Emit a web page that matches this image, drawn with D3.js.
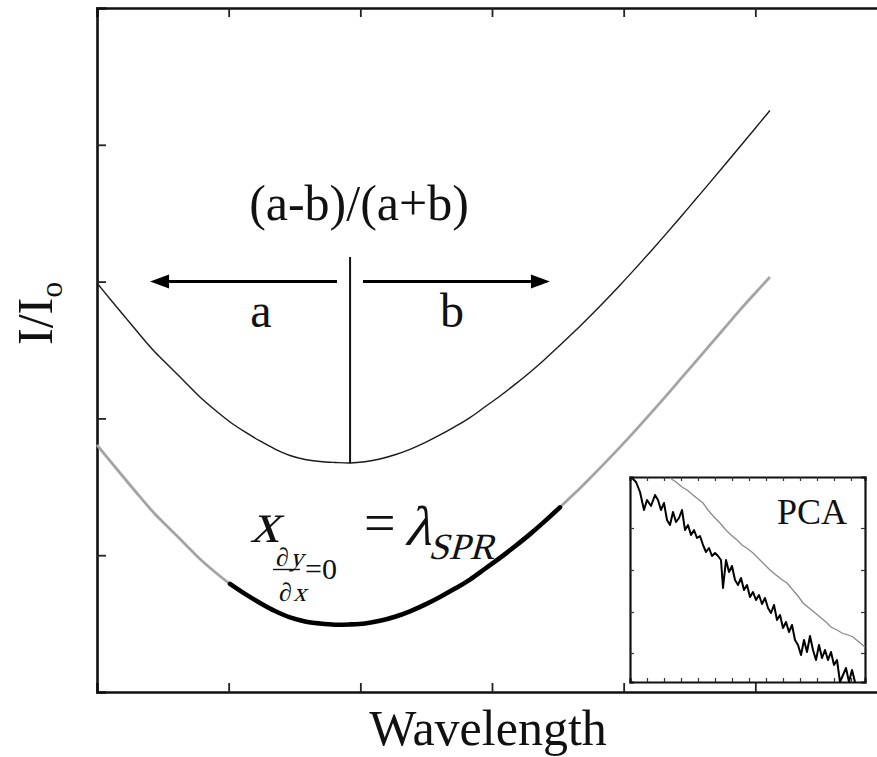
<!DOCTYPE html>
<html>
<head>
<meta charset="utf-8">
<script src="https://cdn.jsdelivr.net/npm/d3@7"></script>
<style>
  html, body { margin: 0; padding: 0; background: #fff; }
  svg { display: block; }
  text { font-family: "Liberation Serif", "Times New Roman", serif; fill: #111; }
</style>
</head>
<body>
<svg id="chart" width="877" height="757"></svg>
<script>
// ---- Main spectra (arbitrary units) ----
const xTicks = [1, 2, 3, 4, 5];
const yTicks = [1, 2, 3, 4];

// wavelength grid shared by both spectra
const wl = [0.000, 0.099, 0.213, 0.327, 0.440, 0.554, 0.668, 0.782, 0.896, 1.010,
            1.124, 1.238, 1.352, 1.466, 1.580, 1.694, 1.808, 1.922, 2.035, 2.149,
            2.263, 2.377, 2.491, 2.605, 2.719, 2.833, 2.947, 3.061, 3.175, 3.289,
            3.402, 3.516, 3.630, 3.744, 3.858, 3.972, 4.086, 4.200, 4.314, 4.428,
            4.542, 4.656, 4.770, 4.884, 4.998, 5.111];

// Reference spectrum (upper, thin black)
const upperY = [2.990, 2.873, 2.741, 2.610, 2.485, 2.376, 2.266, 2.156, 2.061, 1.974,
                1.901, 1.835, 1.776, 1.729, 1.700, 1.685, 1.678, 1.674, 1.683, 1.703,
                1.734, 1.774, 1.823, 1.879, 1.940, 2.006, 2.085, 2.164, 2.249, 2.338,
                2.433, 2.534, 2.638, 2.747, 2.859, 2.974, 3.093, 3.215, 3.340, 3.467,
                3.596, 3.725, 3.856, 3.988, 4.119, 4.251];

// Measured spectrum (lower, grey)
const lowerY = [1.806, 1.689, 1.557, 1.426, 1.301, 1.192, 1.082, 0.972, 0.877, 0.790,
                0.717, 0.651, 0.592, 0.545, 0.516, 0.501, 0.492, 0.494, 0.501, 0.520,
                0.550, 0.590, 0.639, 0.695, 0.756, 0.822, 0.901, 0.980, 1.065, 1.154,
                1.249, 1.350, 1.454, 1.563, 1.675, 1.790, 1.909, 2.031, 2.156, 2.283,
                2.410, 2.537, 2.665, 2.793, 2.915, 3.034];

// Wavelength window of the polynomial fit around the minimum
const fitRange = [1.010, 3.516];

// ---- Inset: principal components ----
const insetXTicks = [17, 34, 51, 68, 85, 102, 119, 136, 153, 170, 187, 204, 221];
const insetYTicks = [29, 70, 112, 154];
const pcaBlackX = [2, 6, 10, 14, 17, 21, 25, 28, 31, 34, 37, 40, 43, 46, 49, 52, 55, 58, 61, 64,
                   67, 70, 73, 76, 79, 82, 85, 88, 91, 93, 96, 99, 102, 105, 108, 111, 114, 117, 120, 123,
                   126, 129, 132, 135, 138, 141, 144, 147, 150, 153, 156, 159, 162, 165, 168, 171, 174, 177, 180, 183,
                   186, 189, 192, 195, 198, 201, 204, 207, 210, 213, 216, 219, 222, 225];
const pcaBlackY = [204, 200, 190, 172, 182, 176, 187, 182, 172, 179, 162, 157, 170, 160, 164, 172, 152, 157, 147, 152,
                   144, 146, 137, 130, 134, 126, 129, 126, 122, 94, 122, 110, 116, 102, 97, 104, 92, 97, 85, 90,
                   82, 87, 78, 84, 74, 69, 77, 62, 67, 54, 60, 50, 57, 42, 37, 27, 42, 30, 46, 32,
                   22, 37, 24, 32, 22, 30, 17, 22, 0, 7, 14, 0, 12, 0];
const pcaGreyX = [40, 46, 52, 57, 63, 68, 73, 78, 84, 90, 95, 101, 107, 112, 118, 123, 129, 134, 140, 146,
                  151, 157, 162, 168, 173, 179, 184, 190, 196, 201, 207, 212, 218, 223, 229, 235];
const pcaGreyY = [204, 200, 195, 192, 187, 183, 179, 172, 165, 159, 153, 147, 142, 137, 133, 129, 123, 118, 112, 107,
                  103, 99, 93, 86, 79, 74, 70, 65, 60, 55, 52, 49, 47, 45, 40, 35];

// ---- Layout ----
const svg = d3.select("#chart");
const defs = svg.append("defs");
defs.append("filter").attr("id", "soft")
  .append("feGaussianBlur").attr("stdDeviation", 0.6);

const plot = { left: 97, right: 887, top: 8, bottom: 692 };
const x = d3.scaleLinear().domain([0, 6]).range([plot.left, plot.right]);
const y = d3.scaleLinear().domain([0, 5]).range([plot.bottom, plot.top]);
const tickLen = 9;

// axis frame with inward ticks on all four sides
const frame = svg.append("g");
frame.append("g").attr("transform", `translate(0,${plot.bottom})`)
  .call(d3.axisBottom(x).tickValues(xTicks).tickSize(-tickLen).tickFormat(""));
frame.append("g").attr("transform", `translate(0,${plot.top})`)
  .call(d3.axisTop(x).tickValues(xTicks).tickSize(-tickLen).tickFormat(""));
frame.append("g").attr("transform", `translate(${plot.left},0)`)
  .call(d3.axisLeft(y).tickValues(yTicks).tickSize(-tickLen).tickFormat(""));
frame.append("g").attr("transform", `translate(${plot.right},0)`)
  .call(d3.axisRight(y).tickValues(yTicks).tickSize(-tickLen).tickFormat(""));
frame.selectAll(".domain").attr("stroke", "#111").attr("stroke-width", 2.6);
frame.selectAll(".tick line").attr("stroke", "#222").attr("stroke-width", 1.8);

const smooth = d3.line().curve(d3.curveCatmullRom).x(d => x(d[0])).y(d => y(d[1]));
const upper = wl.map((v, i) => [v, upperY[i]]);
const lower = wl.map((v, i) => [v, lowerY[i]]);
const fit = lower.filter(d => d[0] >= fitRange[0] && d[0] <= fitRange[1]);

svg.append("path").datum(lower)
  .attr("d", smooth).attr("fill", "none").attr("filter", "url(#soft)")
  .attr("stroke", "#a4a4a4").attr("stroke-width", 2.8).attr("stroke-linejoin", "round");
svg.append("path").datum(upper)
  .attr("d", smooth).attr("fill", "none")
  .attr("stroke", "#1a1a1a").attr("stroke-width", 1.4).attr("stroke-linejoin", "round");
svg.append("path").datum(fit)
  .attr("d", smooth)
  .attr("fill", "none").attr("stroke", "#000").attr("stroke-width", 4.6).attr("stroke-linecap", "round");

// ---- Annotations: centroid split (a | b) ----
const split = upper.reduce((m, d) => d[1] < m[1] ? d : m);
const arrowY = 3.0;
const ann = svg.append("g");
ann.append("line")
  .attr("x1", x(split[0])).attr("x2", x(split[0]))
  .attr("y1", y(3.18)).attr("y2", y(split[1]))
  .attr("stroke", "#111").attr("stroke-width", 2);

function arrow(x0, x1) {
  const dir = Math.sign(x1 - x0);
  const head = 19, half = 7;
  ann.append("line")
    .attr("x1", x(x0)).attr("x2", x(x1) - dir * head)
    .attr("y1", y(arrowY)).attr("y2", y(arrowY))
    .attr("stroke", "#000").attr("stroke-width", 3);
  ann.append("path")
    .attr("d", `M${x(x1)},${y(arrowY)} L${x(x1) - dir * head},${y(arrowY) - half} L${x(x1) - dir * head},${y(arrowY) + half} Z`)
    .attr("fill", "#000");
}
arrow(1.823, 0.403);
arrow(2.020, 3.440);

ann.append("text").attr("x", 359).attr("y", 220).attr("text-anchor", "middle")
  .attr("font-size", 50).text("(a-b)/(a+b)");
ann.append("text").attr("x", 261).attr("y", 327).attr("text-anchor", "middle")
  .attr("font-size", 48).text("a");
ann.append("text").attr("x", 452).attr("y", 327).attr("text-anchor", "middle")
  .attr("font-size", 48).text("b");

// ---- Formula: x at zero derivative = lambda_SPR ----
const fm = svg.append("g");
// slanted glyphs for the math variables
function slanted(tx, ty, size, str) {
  return fm.append("text")
    .attr("transform", `translate(${tx},${ty}) skewX(-16)`)
    .attr("font-size", size).text(str);
}
slanted(250, 542, 58, "x");
fm.append("text").attr("x", 276).attr("y", 566).attr("font-size", 26).text("∂");
slanted(290, 566, 26, "y");
fm.append("line").attr("x1", 273).attr("x2", 300).attr("y1", 569.5).attr("y2", 569.5)
  .attr("stroke", "#111").attr("stroke-width", 1.4);
fm.append("text").attr("x", 279).attr("y", 601).attr("font-size", 26).text("∂");
slanted(293, 601, 26, "x");
fm.append("text").attr("x", 305).attr("y", 579).attr("font-size", 30).text("=0");
fm.append("text").attr("x", 364).attr("y", 542).attr("font-size", 56).text("=");
slanted(404, 545, 56, "λ");
slanted(428, 559, 37, "SPR");

// ---- Axis titles ----
svg.append("text").attr("x", 488).attr("y", 745).attr("text-anchor", "middle")
  .attr("font-size", 50).text("Wavelength");
svg.append("text").attr("transform", "translate(52,345) rotate(-90)")
  .attr("font-size", 50)
  .html('I/I<tspan font-size="32" dy="10">o</tspan>');

// ---- Inset ----
const box = { left: 630, right: 865, top: 477, bottom: 682 };
const ix = d3.scaleLinear().domain([0, 235]).range([box.left, box.right]);
const iy = d3.scaleLinear().domain([0, 205]).range([box.bottom, box.top]);
const inset = svg.append("g");
inset.append("rect").attr("x", box.left).attr("y", box.top)
  .attr("width", box.right - box.left).attr("height", box.bottom - box.top)
  .attr("fill", "#fff");
const iTick = 4;
inset.append("g").attr("transform", `translate(0,${box.bottom})`)
  .call(d3.axisBottom(ix).tickValues(insetXTicks).tickSize(-iTick).tickFormat(""));
inset.append("g").attr("transform", `translate(0,${box.top})`)
  .call(d3.axisTop(ix).tickValues(insetXTicks).tickSize(-iTick).tickFormat(""));
inset.append("g").attr("transform", `translate(${box.left},0)`)
  .call(d3.axisLeft(iy).tickValues(insetYTicks).tickSize(-iTick).tickFormat(""));
inset.append("g").attr("transform", `translate(${box.right},0)`)
  .call(d3.axisRight(iy).tickValues(insetYTicks).tickSize(-iTick).tickFormat(""));
inset.selectAll(".domain").attr("stroke", "#111").attr("stroke-width", 2.2);
inset.selectAll(".tick line").attr("stroke", "#333").attr("stroke-width", 1.2);

const iline = d3.line().x(d => ix(d[0])).y(d => iy(d[1]));
inset.append("path").datum(pcaGreyX.map((v, i) => [v, pcaGreyY[i]]))
  .attr("d", iline).attr("fill", "none").attr("stroke", "#8a8a8a").attr("stroke-width", 1.3);
inset.append("path").datum(pcaBlackX.map((v, i) => [v, pcaBlackY[i]]))
  .attr("d", iline).attr("fill", "none").attr("stroke", "#000").attr("stroke-width", 2)
  .attr("stroke-linejoin", "round");
inset.append("text").attr("x", 812).attr("y", 524).attr("text-anchor", "middle")
  .attr("font-size", 36).text("PCA");
</script>
</body>
</html>
